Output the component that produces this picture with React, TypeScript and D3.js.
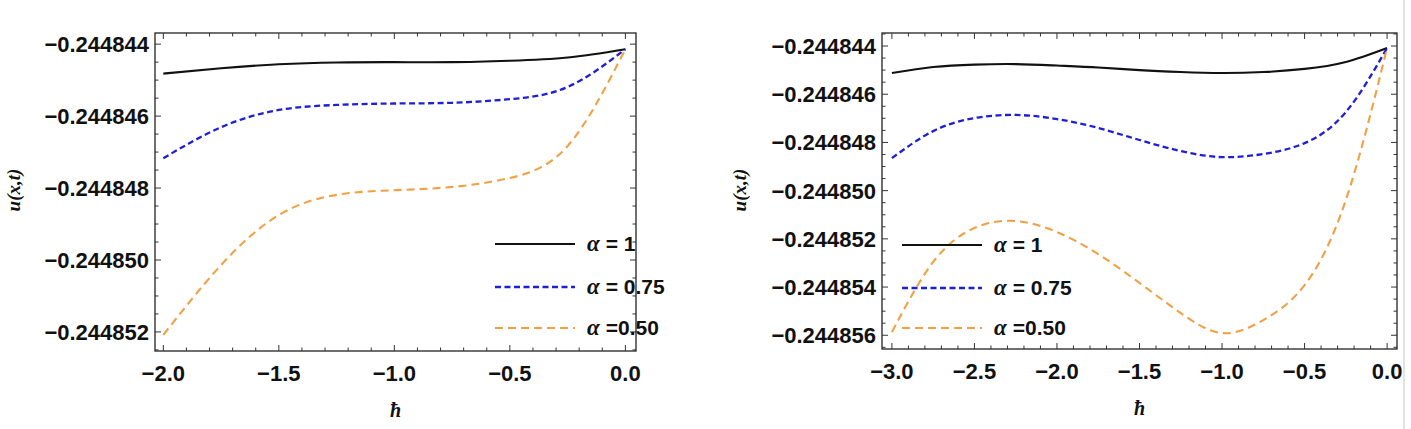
import React from "react";
import * as d3 from "d3";

// ---------- data ----------
const hbarLeft = [-2.0, -1.75, -1.5, -1.25, -1.0, -0.75, -0.5, -0.25, 0.0];
const leftAlpha1 = [-0.24484482, -0.24484467, -0.24484456, -0.24484451, -0.2448445, -0.2448445, -0.24484446, -0.24484437, -0.24484414];
const leftAlpha075 = [-0.24484717, -0.24484631, -0.24484583, -0.24484569, -0.24484565, -0.24484563, -0.24484553, -0.24484519, -0.24484414];
const leftAlpha050 = [-0.24485208, -0.24485014, -0.24484875, -0.24484819, -0.24484806, -0.24484797, -0.24484772, -0.24484683, -0.24484414];

const hbarRight = [-3.0, -2.75, -2.5, -2.25, -2.0, -1.75, -1.5, -1.25, -1.0, -0.75, -0.5, -0.25, 0.0];
const rightAlpha1 = [-0.24484512, -0.24484487, -0.24484477, -0.24484475, -0.24484481, -0.24484489, -0.244845, -0.24484508, -0.24484512, -0.24484508, -0.24484495, -0.24484466, -0.24484408];
const rightAlpha075 = [-0.24484865, -0.24484753, -0.24484699, -0.24484686, -0.24484703, -0.2448474, -0.2448479, -0.24484836, -0.24484861, -0.24484848, -0.24484803, -0.24484674, -0.24484408];
const rightAlpha050 = [-0.24485587, -0.24485296, -0.24485155, -0.24485126, -0.24485172, -0.24485263, -0.24485383, -0.24485508, -0.24485591, -0.24485537, -0.24485392, -0.24485039, -0.24484408];

const leftXTicks = [-2.0, -1.5, -1.0, -0.5, 0.0];
const leftYTicks = [-0.244844, -0.244846, -0.244848, -0.24485, -0.244852];
const rightXTicks = [-3.0, -2.5, -2.0, -1.5, -1.0, -0.5, 0.0];
const rightYTicks = [-0.244844, -0.244846, -0.244848, -0.24485, -0.244852, -0.244854, -0.244856];

const legendLabels = ["= 1", "= 0.75", "=0.50"];

// ---------- styles ----------
const seriesStyles = [
  { color: "#111111", dash: "none", width: 2.1 },
  { color: "#1f1fd6", dash: "6,3.5", width: 2.3 },
  { color: "#f2a044", dash: "8,5", width: 2.1 },
];

const FONT = "'Liberation Sans', Arial, sans-serif";

type PanelProps = {
  x0: number; x1: number; y0: number; y1: number;
  xDomain: [number, number]; yDomain: [number, number];
  hbar: number[]; series: number[][];
  xTicks: number[]; yTicks: number[];
  legendX: number; legendY: number[];
  yLabelX: number; yLabelY: number;
};

function minorTicks(major: number[], sub: number, domain: [number, number]) {
  const step = (major[1] - major[0]) / sub;
  const lo = Math.min(domain[0], domain[1]);
  const hi = Math.max(domain[0], domain[1]);
  const out: number[] = [];
  for (let k = -sub * 2; k <= (major.length - 1) * sub + sub * 2; k++) {
    if (k % sub === 0 && k >= 0 && k <= (major.length - 1) * sub) continue;
    const v = major[0] + k * step;
    if (v > lo && v < hi) out.push(v);
  }
  return out;
}

function Panel(p: PanelProps) {
  const xs = d3.scaleLinear().domain(p.xDomain).range([p.x0, p.x1]);
  const ys = d3.scaleLinear().domain(p.yDomain).range([p.y0, p.y1]);
  const line = d3
    .line<[number, number]>()
    .x((d) => xs(d[0]))
    .y((d) => ys(d[1]))
    .curve(d3.curveNatural);
  const fx = d3.format(".1f");
  const fy = d3.format(".6f");
  const xMinor = minorTicks(p.xTicks, 5, p.xDomain);
  const yMinor = minorTicks(p.yTicks, 4, p.yDomain);
  const MJ = 6, MN = 3.5;
  const tickStroke = "#333";
  return (
    <g>
      {p.series.map((s, i) => (
        <path
          key={"s" + i}
          d={line(p.hbar.map((h, j) => [h, s[j]] as [number, number])) || ""}
          fill="none"
          stroke={seriesStyles[i].color}
          strokeWidth={seriesStyles[i].width}
          strokeDasharray={seriesStyles[i].dash}
        />
      ))}
      <rect x={p.x0} y={p.y0} width={p.x1 - p.x0} height={p.y1 - p.y0} fill="none" stroke="#222" strokeWidth={1.3} />
      {p.xTicks.map((t) => (
        <g key={"xt" + t}>
          <line x1={xs(t)} x2={xs(t)} y1={p.y1} y2={p.y1 - MJ} stroke={tickStroke} />
          <line x1={xs(t)} x2={xs(t)} y1={p.y0} y2={p.y0 + MJ} stroke={tickStroke} />
          <text x={xs(t)} y={p.y1 + 30} textAnchor="middle" fontFamily={FONT} fontWeight="bold" fontSize={22} fill="#111">
            {fx(t)}
          </text>
        </g>
      ))}
      {xMinor.map((t, i) => (
        <g key={"xm" + i}>
          <line x1={xs(t)} x2={xs(t)} y1={p.y1} y2={p.y1 - MN} stroke={tickStroke} />
          <line x1={xs(t)} x2={xs(t)} y1={p.y0} y2={p.y0 + MN} stroke={tickStroke} />
        </g>
      ))}
      {p.yTicks.map((t) => (
        <g key={"yt" + t}>
          <line x1={p.x0} x2={p.x0 + MJ} y1={ys(t)} y2={ys(t)} stroke={tickStroke} />
          <line x1={p.x1} x2={p.x1 - MJ} y1={ys(t)} y2={ys(t)} stroke={tickStroke} />
          <text x={p.x0 - 6} y={ys(t)} dy="0.36em" textAnchor="end" fontFamily={FONT} fontWeight="bold" fontSize={22} fill="#111">
            {fy(t)}
          </text>
        </g>
      ))}
      {yMinor.map((t, i) => (
        <g key={"ym" + i}>
          <line x1={p.x0} x2={p.x0 + MN} y1={ys(t)} y2={ys(t)} stroke={tickStroke} />
          <line x1={p.x1} x2={p.x1 - MN} y1={ys(t)} y2={ys(t)} stroke={tickStroke} />
        </g>
      ))}
      <text x={(p.x0 + p.x1) / 2} y={p.y1 + 66} textAnchor="middle" fontFamily="'Liberation Serif', serif" fontStyle="italic" fontWeight="bold" fontSize={20} fill="#111">
        ħ
      </text>
      <text
        transform={`translate(${p.yLabelX},${p.yLabelY}) rotate(-90)`}
        textAnchor="middle"
        fontFamily="'Liberation Serif', serif"
        fontStyle="italic"
        fontWeight="bold"
        fontSize={19}
        fill="#111"
      >
        u(x,t)
      </text>
      {legendLabels.map((lab, i) => (
        <g key={"lg" + i}>
          <line
            x1={p.legendX}
            x2={p.legendX + 80}
            y1={p.legendY[i]}
            y2={p.legendY[i]}
            stroke={seriesStyles[i].color}
            strokeWidth={seriesStyles[i].width}
            strokeDasharray={seriesStyles[i].dash}
          />
          <text x={p.legendX + 92} y={p.legendY[i]} dy="0.35em" fontSize={21} fill="#111" fontFamily={FONT} fontWeight="bold">
            <tspan fontFamily="'Liberation Serif', serif" fontStyle="italic" fontWeight="bold" fontSize={23}>α</tspan>
            <tspan dx={6}>{lab}</tspan>
          </text>
        </g>
      ))}
    </g>
  );
}

export default function App() {
  return (
    <svg
      width={1411}
      height={429}
      style={{ position: "absolute", left: 0, top: 0, background: "#fff" }}
    >
      <rect x={0} y={0} width={1411} height={429} fill="#fff" />
      <Panel
        x0={155} x1={636} y0={33} y1={351}
        xDomain={[-2.036, 0.046]}
        yDomain={[-0.24484369, -0.24485253]}
        hbar={hbarLeft}
        series={[leftAlpha1, leftAlpha075, leftAlpha050]}
        xTicks={leftXTicks}
        yTicks={leftYTicks}
        legendX={495}
        legendY={[244, 287, 328]}
        yLabelX={20}
        yLabelY={190}
      />
      <Panel
        x0={882} x1={1397} y0={33} y1={349}
        xDomain={[-3.06, 0.06]}
        yDomain={[-0.24484346, -0.24485657]}
        hbar={hbarRight}
        series={[rightAlpha1, rightAlpha075, rightAlpha050]}
        xTicks={rightXTicks}
        yTicks={rightYTicks}
        legendX={902}
        legendY={[245, 288, 328]}
        yLabelX={746}
        yLabelY={190}
      />
      <line x1={1404} x2={1404} y1={0} y2={429} stroke="#d8d8d8" strokeWidth={1.5} />
    </svg>
  );
}
